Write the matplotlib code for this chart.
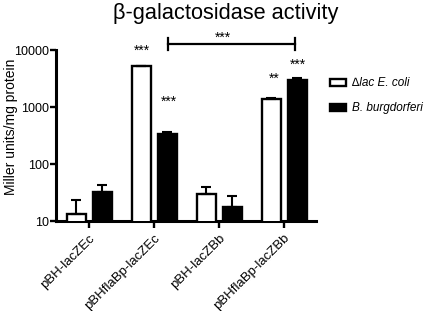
import matplotlib
matplotlib.use("Agg")

import matplotlib.pyplot as plt
import numpy as np
from matplotlib.patches import Patch

plt.rcParams["font.family"] = ["Liberation Sans", "DejaVu Sans"]

constructs = ["pBH-lacZEc", "pBHflaBp-lacZEc", "pBH-lacZBb", "pBHflaBp-lacZBb"]
ecoli_mean = [13.2, 5280, 30, 1365]
ecoli_err = [10.2, 60, 9.5, 92]
bb_mean = [32.7, 331, 17.8, 2976]
bb_err = [9.6, 38, 10, 260]

# significance marks: (x, y, text)
stars = [(0.82, 9600, "***"), (1.23, 1220, "***"),
         (2.85, 3100, "**"), (3.215, 5450, "***")]

fig = plt.figure(figsize=(4.25, 3.11), dpi=100)
ax = fig.add_axes([0.132, 0.289, 0.612, 0.55])

x = np.arange(len(constructs))
w = 0.30
ekw = dict(capsize=3.5, elinewidth=1.5, capthick=1.5)
ax.bar(x - 0.19, ecoli_mean, w, color="white", edgecolor="black", linewidth=1.7,
       yerr=[np.zeros(4), ecoli_err], error_kw=ekw, zorder=3)
ax.bar(x + 0.21, bb_mean, w, color="black", edgecolor="black", linewidth=1.7,
       yerr=[np.zeros(4), bb_err], error_kw=ekw, zorder=3)

ax.set_yscale("log")
ax.set_ylim(10, 10000)
ax.set_xlim(-0.5, 3.5)
ax.set_yticks([10, 100, 1000, 10000])
ax.set_yticklabels(["10", "100", "1000", "10000"])
ax.minorticks_off()
ax.set_xticks(x)
ax.set_xticklabels(constructs, rotation=45, ha="right", rotation_mode="anchor", fontsize=9.5)
ax.tick_params(axis="y", labelsize=9, width=1.7, length=4, pad=1)
ax.tick_params(axis="x", width=1.7, length=5, pad=3)
for s in ["top", "right"]:
    ax.spines[s].set_visible(False)
for s in ["left", "bottom"]:
    ax.spines[s].set_linewidth(2.2)
ax.set_ylabel("Miller units/mg protein", fontsize=10)
ax.yaxis.set_label_coords(-0.145, 0.55)

for sx, sy, st in stars:
    ax.text(sx, sy, st, ha="center", va="center", fontsize=10, clip_on=False)

# bracket between groups 2 and 4
yb = 12700
ax.plot([1.215, 3.17], [yb, yb], color="black", lw=1.6, clip_on=False)
for xe in [1.215, 3.17]:
    ax.plot([xe, xe], [10000, 16200], color="black", lw=1.6, clip_on=False)
ax.text(2.06, 16200, "***", ha="center", va="center", fontsize=10, clip_on=False)

handles = [Patch(facecolor="white", edgecolor="black", linewidth=1.7),
           Patch(facecolor="black", edgecolor="black", linewidth=1.7)]
leg = fig.legend(handles, ["\u2206lac E. coli", "B. burgdorferi"], loc="upper left",
                 bbox_to_anchor=(0.752, 0.785), frameon=False, fontsize=8.5,
                 handlelength=1.3, handleheight=0.6, handletextpad=0.55,
                 labelspacing=1.1)
for t in leg.get_texts():
    t.set_style("italic")

fig.text(0.53, 0.99, "\u03b2-galactosidase activity", ha="center", va="top", fontsize=15.7)

plt.savefig("out.png", dpi=100)
plt.close()
